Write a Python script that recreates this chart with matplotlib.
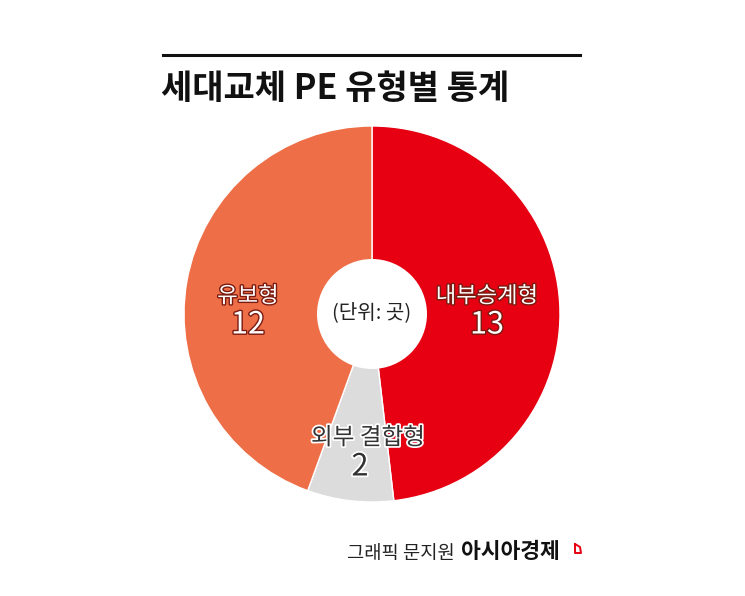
import matplotlib.pyplot as plt
import matplotlib.patheffects as pe
from matplotlib.patches import Circle

plt.rcParams['font.family'] = ['Noto Sans CJK KR', 'DejaVu Sans']

labels = ['내부승계형', '외부 결합형', '유보형']
values = [13, 2, 12]
colors = ['#E60012', '#DCDCDC', '#EE6F47']
title = '세대교체 PE 유형별 통계'

W, H = 745, 596
fig = plt.figure(figsize=(W / 100, H / 100), dpi=100)
ax = fig.add_axes([0, 0, 1, 1])

cx, cy, r = 372, H - 314, 188
ax.pie(values, colors=colors, startangle=90, counterclock=False,
       center=(cx, cy), radius=r, frame=True,
       wedgeprops=dict(edgecolor='white', linewidth=1))
ax.set_xlim(0, W)
ax.set_ylim(0, H)
ax.set_aspect('equal')
ax.axis('off')
ax.add_patch(Circle((cx, cy), 55, facecolor='white', zorder=5))
ax.text(cx, cy + 1, '(단위: 곳)', ha='center', va='center', fontsize=14.5,
        color='#222222', zorder=6)

# slice labels
white_fx = [pe.withStroke(linewidth=2, foreground='#7a1a10')]
ax.text(487, H - 296, labels[0], ha='center', va='center', fontsize=16,
        color='white', fontweight='medium', path_effects=white_fx)
ax.text(487, H - 325, str(values[0]), ha='center', va='center', fontsize=22,
        color='white', fontweight='medium', path_effects=white_fx)
ax.text(248, H - 296, labels[2], ha='center', va='center', fontsize=16,
        color='white', fontweight='medium', path_effects=white_fx)
ax.text(248, H - 325, str(values[2]), ha='center', va='center', fontsize=22,
        color='white', fontweight='medium', path_effects=white_fx)
grey_fx = [pe.withStroke(linewidth=2.5, foreground='white')]
ax.text(368, H - 438, labels[1], ha='center', va='center', fontsize=17,
        color='#333333', path_effects=grey_fx)
ax.text(360, H - 467, str(values[1]), ha='center', va='center', fontsize=22,
        color='#333333', path_effects=grey_fx)

# header
ax.plot([163, 580], [H - 55, H - 55], color='#111111', lw=2.2)
ax.text(161, H - 88, title, ha='left', va='center', fontsize=24.5,
        fontweight='bold', color='#111111')

# footer
ax.text(455, H - 553, '그래픽 문지원', ha='right', va='center', fontsize=13.5,
        color='#222222')
ax.text(461, H - 552, '아시아경제', ha='left', va='center', fontsize=15.5,
        fontweight='bold', color='#111111')
ax.plot([575, 575, 581, 580, 575], [H - 544, H - 553, H - 553, H - 547, H - 544],
        color='#E60012', lw=1.4)

fig.savefig('out.png', dpi=100)
